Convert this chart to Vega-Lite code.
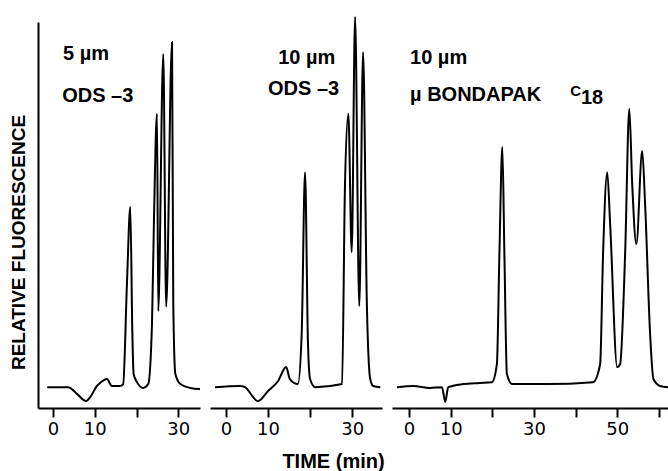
{
  "$schema": "https://vega.github.io/schema/vega-lite/v6.json",
  "autosize": {"type": "pad"},
  "padding": {"left": 9, "top": 12, "right": 0, "bottom": 0},
  "background": "white",
  "spacing": 10,
  "bounds": "flush",
  "config": {
    "view": {"stroke": null},
    "axis": {"domainColor": "black", "domainWidth": 2, "tickColor": "black", "tickWidth": 2, "tickSize": 9, "grid": false,
      "labelFont": "DejaVu Sans", "labelFontSize": 18, "labelColor": "black", "labelPadding": 3,
      "titleFont": "Liberation Sans", "titleFontSize": 19, "titleFontWeight": "bold", "titleColor": "black"},
    "text": {"font": "Liberation Sans", "fontWeight": "bold", "fontSize": 20, "color": "black", "align": "left", "baseline": "alphabetic"},
    "line": {"color": "black", "strokeWidth": 2, "interpolate": "monotone"}
  },
  "datasets": {
    "trace": [
      {"panel": 1, "t": -1.4, "r": 5.4}, {"panel": 1, "t": 3.6, "r": 5.4}, {"panel": 1, "t": 5.8, "r": 3.6}, {"panel": 1, "t": 7.9, "r": 1.8},
      {"panel": 1, "t": 8.9, "r": 2.8}, {"panel": 1, "t": 10.5, "r": 5.7}, {"panel": 1, "t": 11.3, "r": 6.5}, {"panel": 1, "t": 12.9, "r": 7.5},
      {"panel": 1, "t": 14.1, "r": 5.7}, {"panel": 1, "t": 16.0, "r": 5.7}, {"panel": 1, "t": 16.8, "r": 6.2}, {"panel": 1, "t": 17.7, "r": 32.1},
      {"panel": 1, "t": 18.5, "r": 52.1}, {"panel": 1, "t": 19.0, "r": 19.2}, {"panel": 1, "t": 19.3, "r": 8.8}, {"panel": 1, "t": 20.1, "r": 6.7},
      {"panel": 1, "t": 21.6, "r": 5.2}, {"panel": 1, "t": 22.8, "r": 6.2}, {"panel": 1, "t": 23.7, "r": 21.8}, {"panel": 1, "t": 24.2, "r": 50.3},
      {"panel": 1, "t": 24.9, "r": 76.2}, {"panel": 1, "t": 25.2, "r": 25.1}, {"panel": 1, "t": 26.4, "r": 91.7}, {"panel": 1, "t": 27.1, "r": 26.2},
      {"panel": 1, "t": 28.5, "r": 94.8}, {"panel": 1, "t": 28.8, "r": 26.9}, {"panel": 1, "t": 29.3, "r": 8.8}, {"panel": 1, "t": 30.5, "r": 6.2},
      {"panel": 1, "t": 32.9, "r": 5.2}, {"panel": 1, "t": 35.2, "r": 4.9},
      {"panel": 2, "t": -2.6, "r": 5.4}, {"panel": 2, "t": 3.3, "r": 5.7}, {"panel": 2, "t": 4.5, "r": 5.4}, {"panel": 2, "t": 7.6, "r": 1.8},
      {"panel": 2, "t": 10.0, "r": 4.4}, {"panel": 2, "t": 12.4, "r": 7.0}, {"panel": 2, "t": 14.3, "r": 10.6}, {"panel": 2, "t": 15.2, "r": 7.5},
      {"panel": 2, "t": 17.1, "r": 6.2}, {"panel": 2, "t": 18.0, "r": 19.2}, {"panel": 2, "t": 18.8, "r": 61.1}, {"panel": 2, "t": 19.5, "r": 16.6},
      {"panel": 2, "t": 20.0, "r": 7.5}, {"panel": 2, "t": 21.2, "r": 5.4}, {"panel": 2, "t": 27.6, "r": 6.2}, {"panel": 2, "t": 28.3, "r": 58.0},
      {"panel": 2, "t": 29.1, "r": 76.2}, {"panel": 2, "t": 29.9, "r": 40.4}, {"panel": 2, "t": 30.7, "r": 101.3}, {"panel": 2, "t": 31.7, "r": 26.4},
      {"panel": 2, "t": 32.6, "r": 92.2}, {"panel": 2, "t": 33.5, "r": 26.9}, {"panel": 2, "t": 34.3, "r": 7.5}, {"panel": 2, "t": 35.0, "r": 5.7},
      {"panel": 2, "t": 36.7, "r": 5.4},
      {"panel": 3, "t": -2.9, "r": 5.4}, {"panel": 3, "t": 1.0, "r": 5.7}, {"panel": 3, "t": 5.0, "r": 5.2}, {"panel": 3, "t": 7.9, "r": 5.4},
      {"panel": 3, "t": 8.7, "r": 1.6}, {"panel": 3, "t": 9.4, "r": 5.4}, {"panel": 3, "t": 13.0, "r": 6.2}, {"panel": 3, "t": 17.0, "r": 6.5},
      {"panel": 3, "t": 19.9, "r": 6.7}, {"panel": 3, "t": 21.1, "r": 11.4}, {"panel": 3, "t": 21.7, "r": 39.9}, {"panel": 3, "t": 22.4, "r": 67.6},
      {"panel": 3, "t": 22.9, "r": 39.9}, {"panel": 3, "t": 23.5, "r": 8.8}, {"panel": 3, "t": 24.8, "r": 6.2}, {"panel": 3, "t": 33.1, "r": 6.2},
      {"panel": 3, "t": 44.2, "r": 6.7}, {"panel": 3, "t": 45.9, "r": 11.4}, {"panel": 3, "t": 46.6, "r": 39.9}, {"panel": 3, "t": 47.6, "r": 61.1},
      {"panel": 3, "t": 48.3, "r": 47.7}, {"panel": 3, "t": 50.0, "r": 10.6}, {"panel": 3, "t": 50.7, "r": 11.4}, {"panel": 3, "t": 51.9, "r": 39.9},
      {"panel": 3, "t": 52.9, "r": 77.5}, {"panel": 3, "t": 53.6, "r": 58.0}, {"panel": 3, "t": 54.6, "r": 42.5}, {"panel": 3, "t": 56.0, "r": 66.6},
      {"panel": 3, "t": 56.7, "r": 52.8}, {"panel": 3, "t": 57.9, "r": 19.2}, {"panel": 3, "t": 58.7, "r": 7.5}, {"panel": 3, "t": 60.3, "r": 5.7},
      {"panel": 3, "t": 62.2, "r": 5.4}
    ],
    "notes": [
      {"panel": 1, "t": 2.4, "r": 90.2, "label": "5  µm"},
      {"panel": 1, "t": 2.2, "r": 79.3, "label": "ODS –3"},
      {"panel": 2, "t": 12.4, "r": 89.1, "label": "10  µm"},
      {"panel": 2, "t": 10.0, "r": 81.1, "label": "ODS –3"},
      {"panel": 3, "t": 0.24, "r": 89.1, "label": "10  µm"},
      {"panel": 3, "t": 0.24, "r": 79.5, "label": "µ BONDAPAK"},
      {"panel": 3, "t": 41.3, "r": 78.8, "label": "18"}
    ],
    "small": [
      {"panel": 3, "t": 38.7, "r": 80.8, "label": "C"}
    ]
  },
  "hconcat": [
    {
      "width": 162, "height": 386,
      "layer": [
        {
          "data": {"name": "trace"},
          "transform": [{"filter": "datum.panel == 1"}],
          "mark": {"type": "line"},
          "encoding": {
            "x": {"field": "t", "type": "quantitative", "scale": {"domain": [-3.6, 35.2], "nice": false},
              "axis": {"values": [0, 10, 20, 30], "labelExpr": "datum.value == 20 ? '' : datum.label", "title": null}},
            "y": {"field": "r", "type": "quantitative", "scale": {"domain": [0, 100], "nice": false},
              "axis": {"title": "RELATIVE FLUORESCENCE", "labels": false, "ticks": false, "titleX": -19.5, "titleY": 220, "titleBaseline": "middle", "titleAlign": "center", "titleAngle": -90}}
          }
        },
        {
          "data": {"name": "notes"},
          "transform": [{"filter": "datum.panel == 1"}],
          "mark": {"type": "text"},
          "encoding": {
            "x": {"field": "t", "type": "quantitative"},
            "y": {"field": "r", "type": "quantitative"},
            "text": {"field": "label"}
          }
        }
      ]
    },
    {
      "width": 172, "height": 386,
      "layer": [
        {
          "data": {"name": "trace"},
          "transform": [{"filter": "datum.panel == 2"}],
          "mark": {"type": "line"},
          "encoding": {
            "x": {"field": "t", "type": "quantitative", "scale": {"domain": [-3.8, 37.1], "nice": false},
              "axis": {"values": [0, 10, 20, 30], "labelExpr": "datum.value == 20 ? '' : datum.label", "title": "TIME (min)", "titleX": 123, "titleY": 53, "titleBaseline": "middle", "titleAlign": "center", "titleFontSize": 20}},
            "y": {"field": "r", "type": "quantitative", "scale": {"domain": [0, 100], "nice": false}, "axis": null}
          }
        },
        {
          "data": {"name": "notes"},
          "transform": [{"filter": "datum.panel == 2"}],
          "mark": {"type": "text"},
          "encoding": {
            "x": {"field": "t", "type": "quantitative"},
            "y": {"field": "r", "type": "quantitative"},
            "text": {"field": "label"}
          }
        }
      ]
    },
    {
      "width": 276, "height": 386,
      "layer": [
        {
          "data": {"name": "trace"},
          "transform": [{"filter": "datum.panel == 3"}],
          "mark": {"type": "line"},
          "encoding": {
            "x": {"field": "t", "type": "quantitative", "scale": {"domain": [-4.1, 62.2], "nice": false},
              "axis": {"values": [0, 10, 20, 30, 40, 50, 60], "labelExpr": "(datum.value == 20 || datum.value == 40 || datum.value == 60) ? '' : datum.label", "title": null}},
            "y": {"field": "r", "type": "quantitative", "scale": {"domain": [0, 100], "nice": false}, "axis": null}
          }
        },
        {
          "data": {"name": "notes"},
          "transform": [{"filter": "datum.panel == 3"}],
          "mark": {"type": "text"},
          "encoding": {
            "x": {"field": "t", "type": "quantitative"},
            "y": {"field": "r", "type": "quantitative"},
            "text": {"field": "label"}
          }
        },
        {
          "data": {"name": "small"},
          "mark": {"type": "text", "fontSize": 15},
          "encoding": {
            "x": {"field": "t", "type": "quantitative"},
            "y": {"field": "r", "type": "quantitative"},
            "text": {"field": "label"}
          }
        }
      ]
    }
  ]
}
